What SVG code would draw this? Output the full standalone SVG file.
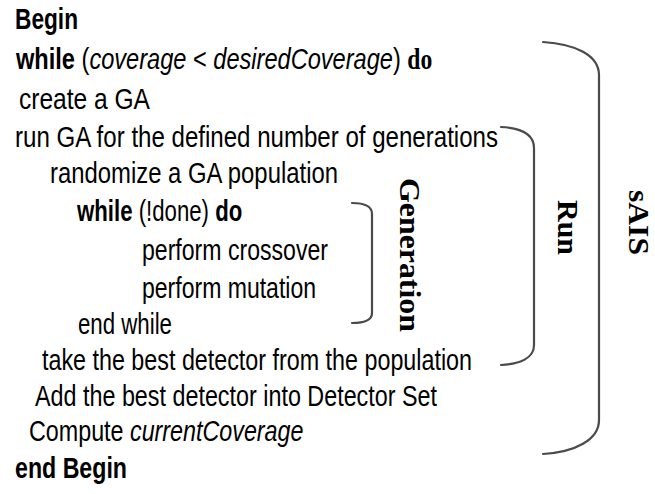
<svg xmlns="http://www.w3.org/2000/svg" width="655" height="494" viewBox="0 0 655 494">
<style>
.t{font-family:"Liberation Sans",Arial,sans-serif;font-size:29px;fill:#000}
.m{font-family:"Liberation Sans",Arial,sans-serif;fill:#000}
.b{font-weight:bold}
.i{font-style:italic}
.s{font-family:"Liberation Serif","Times New Roman",serif;font-weight:bold}
.lab{font-family:"Liberation Serif","Times New Roman",serif;font-weight:bold;font-size:30px;fill:#000}
.br{fill:none;stroke:#4a4a4a;stroke-width:2.2;stroke-linecap:round}
</style>
<rect width="655" height="494" fill="#fff"/>
<g id="code">
<text class="t b" x="15" y="29" textLength="63" lengthAdjust="spacingAndGlyphs">Begin</text>
<text class="m" font-size="23.6" transform="translate(16,69) scale(1,1.23)"><tspan class="b">while</tspan> (<tspan class="i">coverage</tspan> &lt; <tspan class="i">desiredCoverage</tspan>) <tspan class="s">do</tspan></text>
<text class="t" x="19" y="109" textLength="131" lengthAdjust="spacingAndGlyphs">create a GA</text>
<text class="t" x="15" y="147" textLength="483" lengthAdjust="spacingAndGlyphs">run GA for the defined number of generations</text>
<text class="t" x="50" y="183" textLength="288" lengthAdjust="spacingAndGlyphs">randomize a GA population</text>
<text class="m" font-size="22.2" transform="translate(77,221) scale(1,1.3)"><tspan class="b">while</tspan> (!done) <tspan class="b">do</tspan></text>
<text class="t" x="142" y="260" textLength="186" lengthAdjust="spacingAndGlyphs">perform crossover</text>
<text class="t" x="142" y="298" textLength="174" lengthAdjust="spacingAndGlyphs">perform mutation</text>
<text class="t" x="78" y="334" textLength="94" lengthAdjust="spacingAndGlyphs">end while</text>
<text class="t" x="42" y="370" textLength="430" lengthAdjust="spacingAndGlyphs">take the best detector from the population</text>
<text class="t" x="35" y="406" textLength="402" lengthAdjust="spacingAndGlyphs">Add the best detector into Detector Set</text>
<text class="m" font-size="23.3" transform="translate(29,441) scale(1,1.24)">Compute <tspan class="i">currentCoverage</tspan></text>
<text class="t b" x="15" y="478" textLength="112" lengthAdjust="spacingAndGlyphs">end Begin</text>
</g>
<g id="connectors">
<path class="br" d="M352,203 C364,203 372,206 372,214 L372,313 C372,320 364,323 352,323"/>
<path class="br" d="M501,127 C520,128 534,134 534,148 L534,345 C534,358 520,364 501,365"/>
<path class="br" d="M543,42 C575,44 599,55 599,75 L599,420 C599,440 575,452 543,454"/>
</g>
<g id="label-generation"><text class="lab" transform="translate(400,178) rotate(90)" textLength="154" lengthAdjust="spacingAndGlyphs">Generation</text></g>
<g id="label-run"><text class="lab" transform="translate(558,200) rotate(90)" textLength="55" lengthAdjust="spacingAndGlyphs">Run</text></g>
<g id="label-sais"><text class="lab" transform="translate(629,190) rotate(90)" textLength="65" lengthAdjust="spacingAndGlyphs">sAIS</text></g>
</svg>
